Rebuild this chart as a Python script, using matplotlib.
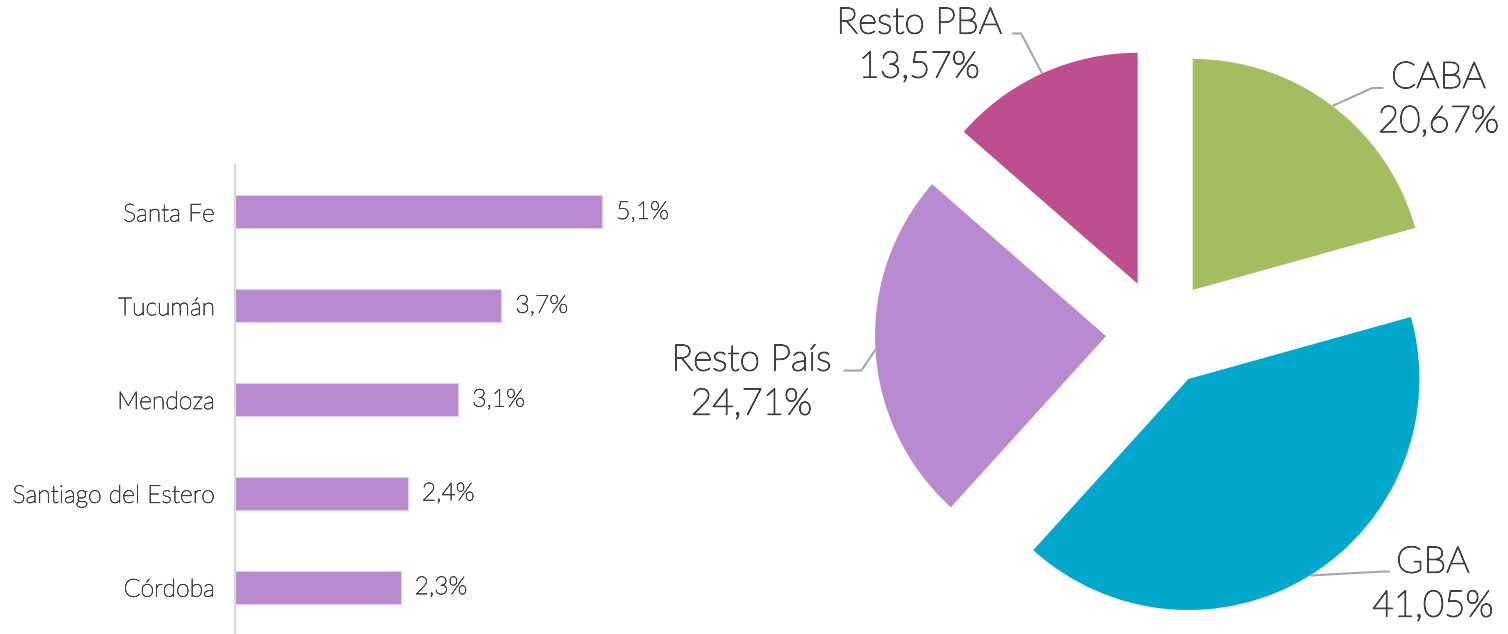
import numpy as np
import matplotlib
matplotlib.use("Agg")
import matplotlib.pyplot as plt
import matplotlib.patheffects as pe

plt.rcParams['font.family'] = ['Lato', 'DejaVu Sans']

# Data ===================================================
provincias = ['Santa Fe', 'Tucumán', 'Mendoza', 'Santiago del Estero', 'Córdoba']
prov_vals = [5.1, 3.7, 3.1, 2.4, 2.3]

regiones = ['CABA', 'GBA', 'Resto País', 'Resto PBA']
reg_vals = [20.67, 41.05, 24.71, 13.57]
reg_colors = ['#A5BD61', '#02A7CC', '#BA8AD0', '#BD4F8E']

# Layout (pixels) ========================================
W, H = 1508, 634
R_PX = 231.0             # pie radius in px
CX, CY = 1160, 333       # pie centre (px from left / top)
EXPLODE = 0.234

# light font thickened a little, between Lato Light and Regular
bar_fx = [pe.withStroke(linewidth=0.5, foreground='#404040')]
pie_fx = [pe.withStroke(linewidth=0.9, foreground='#404040')]

fig = plt.figure(figsize=(W / 100, H / 100), dpi=100)

# ========== BAR CHART ==========
ax = fig.add_axes([235 / W, 0, 432 / W, 469 / H])
y = np.arange(len(provincias))
ax.barh(y, prov_vals, height=0.35, color='#BA8AD0', edgecolor='#E3CCEC', linewidth=0.8)
ax.set_xlim(0, 6)
ax.set_ylim(len(provincias) - 0.5, -0.5)
ax.set_yticks(y)
ax.set_yticklabels(provincias, fontsize=17.8, color='#404040', fontweight='light')
for t in ax.get_yticklabels():
    t.set_path_effects(bar_fx)
ax.tick_params(axis='y', length=0, pad=14.4)
ax.set_xticks([])
for s in ['top', 'right', 'bottom']:
    ax.spines[s].set_visible(False)
ax.spines['left'].set_color('#D9D9D9')
ax.spines['left'].set_linewidth(1.6)
for yi, v in zip(y, prov_vals):
    ax.annotate(f"{v:.1f}%".replace('.', ','), (v, yi), xytext=(14, 0),
                textcoords='offset pixels', va='center', ha='left',
                fontsize=17.8, color='#404040', fontweight='light', path_effects=bar_fx)

# ========== PIE CHART ==========
x0 = 700
ax2 = fig.add_axes([x0 / W, 0, (W - x0) / W, 1])
ax2.axis('off')

wedges, _ = ax2.pie(reg_vals, colors=reg_colors, startangle=90, counterclock=False,
                    explode=[EXPLODE] * len(reg_vals), radius=1)
ax2.set_xlim((x0 - CX) / R_PX, (W - CX) / R_PX)
ax2.set_ylim((CY - H) / R_PX, CY / R_PX)
ax2.set_aspect('auto')

# leader / label offsets in px from the arc midpoint: elbow, end, text (x centre, baseline)
label_offsets = {
    'CABA': [(40, 18), (51, 18), (106, 18)],
    'GBA': [(73, 4), (80, 4), (123, 3)],
    'Resto País': [(-14, -21), (-32, -21), (-124, -21)],
    'Resto PBA': [(-21, 40), (-30, 40), (-123, 40)],
}

for w, name, v in zip(wedges, regiones, reg_vals):
    th = np.deg2rad((w.theta1 + w.theta2) / 2)
    px, py = (1 + EXPLODE) * np.cos(th), (1 + EXPLODE) * np.sin(th)
    (ex, ey), (fx, fy), (tx, ty) = label_offsets[name]
    ax2.plot([px, px + ex / R_PX, px + fx / R_PX], [py, py + ey / R_PX, py + fy / R_PX],
             color='#A6A6A6', lw=1.5, solid_capstyle='butt')
    ax2.text(px + tx / R_PX, py + ty / R_PX, name, ha='center', va='baseline',
             fontsize=26.5, color='#404040', fontweight='light', path_effects=pie_fx)
    ax2.text(px + tx / R_PX, py + (ty - 44) / R_PX, f"{v:.2f}%".replace('.', ','),
             ha='center', va='baseline', fontsize=26.5, color='#404040',
             fontweight='light', path_effects=pie_fx)

fig.savefig('out.png', dpi=100, facecolor='white')
